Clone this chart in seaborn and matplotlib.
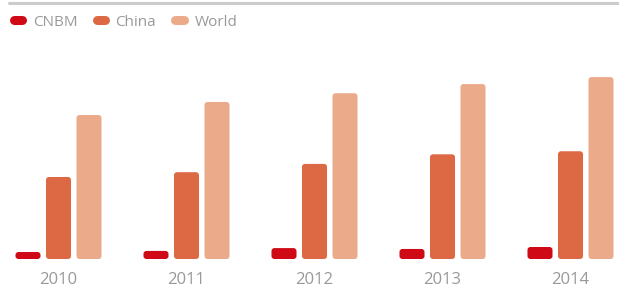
"""
Cement output: CNBM vs China vs World, 2010-2014
"""

import pandas as pd
import matplotlib.pyplot as plt
import seaborn as sns
from matplotlib.patches import FancyBboxPatch
from matplotlib.lines import Line2D

years = ['2010', '2011', '2012', '2013', '2014']
cnbm = [160, 185, 250, 230, 275]
china = [1880, 1990, 2180, 2400, 2470]
world = [3300, 3600, 3800, 4010, 4170]

series = ['CNBM', 'China', 'World']
colors = ['#cf0a16', '#dd6944', '#ebab8b']

df = pd.DataFrame({
    'year': years * 3,
    'value': cnbm + china + world,
    'series': [s for s in series for _ in years],
})

sns.set_style('white')
plt.rcParams['font.family'] = ['Open Sans', 'DejaVu Sans']

fig = plt.figure(figsize=(6.19, 2.92), dpi=100)
ax = fig.add_axes([0, 33 / 292, 1, 219 / 292])

sns.barplot(data=df, x='year', y='value', hue='series', hue_order=series,
            palette=colors, width=0.715, gap=0.18, ax=ax, legend=False,
            saturation=1)

ax.set_xlim(-58.5 / 128, (619 - 58.5) / 128)
ax.set_ylim(0, 5020)

# swap the plain rectangles for bars with softened corners
x_per_px = (ax.get_xlim()[1] - ax.get_xlim()[0]) / 619
y_per_px = 5020 / 219
for p in list(ax.patches):
    x, y = p.get_x(), p.get_y()
    w, h = p.get_width(), p.get_height()
    fb = FancyBboxPatch((x, y), w, h,
                        boxstyle=f'round,pad=0,rounding_size={3 * x_per_px}',
                        mutation_aspect=y_per_px / x_per_px,
                        facecolor=p.get_facecolor(), edgecolor='none')
    p.remove()
    ax.add_patch(fb)

sns.despine(ax=ax, left=True, bottom=True)
ax.set_yticks([])
ax.set_xlabel('')
ax.set_ylabel('')
ax.tick_params(axis='x', length=0, pad=9, labelsize=12, labelcolor='#999999')

# legend with pill-shaped markers
handles = [Line2D([0], [0], color=c, lw=6.5, solid_capstyle='round')
           for c in colors]
fig.legend(handles, series, loc='upper left',
           bbox_to_anchor=(3 / 619, 1 - 4 / 292),
           ncol=3, frameon=False, fontsize=11, labelcolor='#999999',
           handlelength=0.55, handletextpad=0.7, columnspacing=1.25,
           borderaxespad=0.3)

# thin grey rule along the top
fig.add_artist(Line2D([9 / 619, 1], [1 - 2.5 / 292] * 2, color='#cccccc',
                      lw=2.2, transform=fig.transFigure))

fig.savefig('out.png', dpi=100)
